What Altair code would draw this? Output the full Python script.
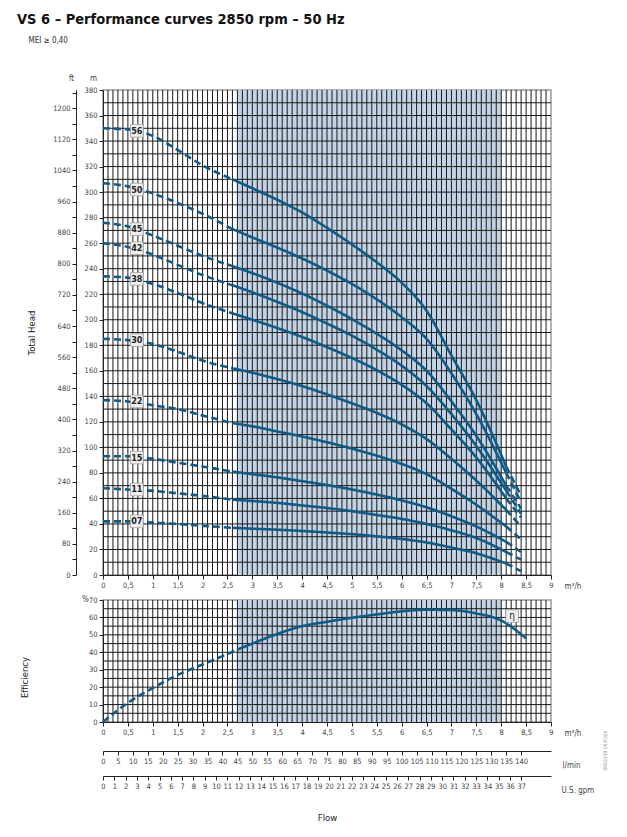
import altair as alt
import pandas as pd

# flow points (m3/h)
flow = [0, 0.5, 1, 1.5, 2, 2.6, 3, 3.5, 4, 4.5, 5, 5.5, 6, 6.5, 7, 7.5, 8.1, 8.4]

# head (m) per pump model
head_56 = [350, 349, 344, 333, 321, 310, 303, 294, 284, 272, 259, 245, 229, 207, 172, 137, 85, 62]
head_50 = [307, 304.5, 299, 291.5, 283, 271, 264.5, 256.5, 248, 238.5, 228, 216, 202, 185, 158, 126, 80, 57]
head_45 = [276, 273, 266, 258, 250, 242, 236.5, 229, 220.5, 211, 200.5, 189, 176, 160, 136, 109, 70, 52]
head_42 = [260, 257, 251, 243, 235, 227, 221.5, 214, 206, 197, 187.5, 176.5, 164, 148, 126, 101, 66, 48]
head_38 = [234, 233, 228, 221, 213, 205, 200, 193.5, 186.5, 178.5, 170, 160.5, 149, 134.5, 114, 92, 60, 45]
head_30 = [185, 184, 181, 175, 168, 162, 158.5, 153.5, 148, 141.5, 134.5, 127, 118, 106.5, 91, 74, 51, 38]
head_22 = [137, 136, 133, 130, 125, 119, 116.5, 112.5, 108.5, 104, 99, 93.5, 87, 79, 67.5, 55, 38, 28]
head_15 = [93, 93, 91, 88, 85, 81, 79, 76.5, 73.5, 70.5, 67, 63, 58.5, 53, 46, 38, 26, 18]
head_11 = [68, 67, 66, 64, 62, 59, 58, 56.5, 54.5, 52.5, 50, 47, 44, 40, 35, 29, 18, 12]
head_07 = [42, 42, 41, 40, 38.5, 37, 36.3, 35.5, 34.5, 33.3, 32, 30.3, 28.2, 25.5, 21.5, 17, 9, 3]

curve_names = ['56', '50', '45', '42', '38', '30', '22', '15', '11', '07']
curve_heads = [head_56, head_50, head_45, head_42, head_38, head_30, head_22, head_15, head_11, head_07]
label_flow = 0.68
label_head = [348, 302, 271, 256, 232, 184, 136, 92, 67, 42]

# efficiency curve
eff_flow = [0, 0.5, 1, 1.5, 2, 2.5, 2.7, 3, 3.5, 4, 4.5, 5, 5.5, 6, 6.5, 7, 7.5, 8, 8.5]
eff_pct = [0, 11, 19.5, 27, 33, 39, 41.5, 45, 50.5, 55, 57.5, 59.8, 61.7, 63.5, 64.4, 64.2, 62.3, 58.2, 48]

band_start, band_end = 2.7, 8.0

# tick labels
flow_ticks = [i / 2 for i in range(19)]
m_ticks = list(range(0, 381, 20))
ft_ticks = list(range(0, 1241, 40))
eff_ticks = list(range(0, 71, 10))
lmin_ticks = list(range(0, 141, 5))
gpm_ticks = list(range(0, 38))

# grid lines
vgrid = [round(i * 0.1, 1) for i in range(1, 90)]
hgrid_m = list(range(10, 380, 10))
hgrid_eff = list(range(5, 70, 5))

W, H1, H2 = 448, 485, 122
BLUE = '#0f5a87'
BAND = '#c1d3e5'
GRID = '#1b1b1b'
FONT = 'DejaVu Sans Condensed, Liberation Sans Narrow, Liberation Sans, sans-serif'

x_flow = alt.Scale(domain=[0, 9], nice=False)
y_head = alt.Scale(domain=[0, 380], nice=False)
y_ft = alt.Scale(domain=[0, 380 * 3.28084], nice=False)
y_eff = alt.Scale(domain=[0, 70], nice=False)
x_lmin = alt.Scale(domain=[0, 150], nice=False)
x_gpm = alt.Scale(domain=[0, 9 * 1000 / 60 / 3.78541], nice=False)

ax = dict(labelFont=FONT, labelFontSize=7.5, labelColor='#444', tickColor='#222',
          domainColor='#222', tickSize=4, labelPadding=2, grid=False,
          labelOverlap=False, titleFont=FONT, titleFontWeight='normal',
          titleColor='#444', titleFontSize=8)
side_title = dict(labels=False, ticks=False, domain=False, grid=False,
                  titleFont=FONT, titleFontWeight='normal', titleColor='#222',
                  titleFontSize=9.5)


def flow_axis():
    return alt.Axis(orient='bottom', values=flow_ticks, format='.1~f', labelFlush=False,
                    labelExpr="replace(datum.label, '.', ',')", title='m³/h',
                    titleX=W + 13, titleY=11, titleAlign='left',
                    titleBaseline='middle', **ax)


# --- rows for the head curves: dashed start, solid middle, dashed end
rows = []
for name, heads in zip(curve_names, curve_heads):
    for i, (f, h) in enumerate(zip(flow, heads)):
        if i <= 5:
            rows.append({'curve': name, 'part': name + 'a', 'style': 'dash', 'flow': f, 'head': h})
        if 5 <= i <= 16:
            rows.append({'curve': name, 'part': name + 'b', 'style': 'solid', 'flow': f, 'head': h})
        if i >= 16:
            rows.append({'curve': name, 'part': name + 'c', 'style': 'dash', 'flow': f, 'head': h})
curves_df = pd.DataFrame(rows)
labels_df = pd.DataFrame({'curve': curve_names, 'flow': label_flow, 'head': label_head})

eff_rows = []
for i, (f, e) in enumerate(zip(eff_flow, eff_pct)):
    if i <= 6:
        eff_rows.append({'part': 'a', 'style': 'dash', 'flow': f, 'eff': e})
    if i >= 6:
        eff_rows.append({'part': 'b', 'style': 'solid', 'flow': f, 'eff': e})
eff_df = pd.DataFrame(eff_rows)

dash_scale = alt.Scale(domain=['dash', 'solid'], range=[[7, 4], [1, 0]])
band_df = pd.DataFrame({'start': [band_start], 'end': [band_end]})

# ---------------- upper chart: total head
band_u = alt.Chart(band_df).mark_rect(color=BAND).encode(
    x=alt.X('start:Q', scale=x_flow, axis=None), x2='end:Q',
    y=alt.Y(datum=0, scale=y_head, axis=None), y2=alt.datum(380))
vgrid_u = alt.Chart(pd.DataFrame({'g': vgrid})).mark_rule(color=GRID, strokeWidth=1).encode(
    x=alt.X('g:Q', scale=x_flow, axis=None),
    y=alt.Y(datum=0, scale=y_head, axis=None), y2=alt.datum(380))
hgrid_u = alt.Chart(pd.DataFrame({'g': hgrid_m})).mark_rule(color=GRID, strokeWidth=1).encode(
    x=alt.X(datum=0, scale=x_flow, axis=None), x2=alt.datum(9),
    y=alt.Y('g:Q', scale=y_head,
            axis=alt.Axis(orient='left', title='Total Head', titleX=-72, titleY=H1 / 2,
                          titleAngle=270, titleBaseline='middle', titleAlign='center',
                          **side_title)))
lines_u = alt.Chart(curves_df).mark_line(color=BLUE, strokeWidth=2.6, interpolate='monotone').encode(
    x=alt.X('flow:Q', scale=x_flow, axis=flow_axis()),
    y=alt.Y('head:Q', scale=y_head,
            axis=alt.Axis(orient='left', values=m_ticks, format='d', title='m', titleX=-10,
                          titleY=-8, titleAngle=0, titleAlign='center', **ax)),
    detail='part:N',
    strokeDash=alt.StrokeDash('style:N', scale=dash_scale, legend=None))
box_u = alt.Chart(labels_df).mark_square(size=160, fill='#efefef', stroke='#a0a0a0',
                                          strokeWidth=0.8, opacity=1).encode(
    x=alt.X('flow:Q', scale=x_flow, axis=None),
    y=alt.Y('head:Q', scale=y_head, axis=None))
text_u = alt.Chart(labels_df).mark_text(font=FONT, fontSize=9, fontWeight='bold', color='#222').encode(
    x=alt.X('flow:Q', scale=x_flow, axis=None),
    y=alt.Y('head:Q', scale=y_head, axis=None),
    text='curve:N')
ft_u = alt.Chart(pd.DataFrame({'ft': ft_ticks})).mark_point(opacity=0).encode(
    x=alt.X(datum=0, scale=x_flow, axis=None),
    y=alt.Y('ft:Q', scale=y_ft,
            axis=alt.Axis(orient='left', offset=27, values=ft_ticks, format='d',
                          labelExpr="datum.value % 80 === 0 ? datum.label : ''",
                          title='ft', titleX=-5, titleY=-8, titleAngle=0,
                          titleAlign='center', **ax)))

upper = alt.layer(band_u, vgrid_u, hgrid_u, lines_u, box_u, text_u, ft_u).resolve_scale(
    x='independent', y='independent').properties(width=W, height=H1)

# ---------------- lower chart: efficiency
band_l = alt.Chart(band_df).mark_rect(color=BAND).encode(
    x=alt.X('start:Q', scale=x_flow,
            axis=alt.Axis(orient='bottom', title='Flow', titleX=W / 2, titleY=90,
                          titleAlign='center', **side_title)),
    x2='end:Q',
    y=alt.Y(datum=0, scale=y_eff, axis=None), y2=alt.datum(70))
vgrid_l = alt.Chart(pd.DataFrame({'g': vgrid})).mark_rule(color=GRID, strokeWidth=1).encode(
    x=alt.X('g:Q', scale=x_flow, axis=None),
    y=alt.Y(datum=0, scale=y_eff, axis=None), y2=alt.datum(70))
hgrid_l = alt.Chart(pd.DataFrame({'g': hgrid_eff})).mark_rule(color=GRID, strokeWidth=1).encode(
    x=alt.X(datum=0, scale=x_flow, axis=None), x2=alt.datum(9),
    y=alt.Y('g:Q', scale=y_eff,
            axis=alt.Axis(orient='left', title='Efficiency', titleX=-79, titleY=77,
                          titleAngle=270, titleBaseline='middle', titleAlign='center',
                          **side_title)))
eff_l = alt.Chart(eff_df).mark_line(color=BLUE, strokeWidth=2.6, interpolate='monotone').encode(
    x=alt.X('flow:Q', scale=x_flow, axis=flow_axis()),
    y=alt.Y('eff:Q', scale=y_eff,
            axis=alt.Axis(orient='left', values=eff_ticks, format='d', title='%', titleX=-18,
                          titleY=-1, titleAngle=0, titleAlign='center',
                          titleBaseline='middle', **ax)),
    detail='part:N',
    strokeDash=alt.StrokeDash('style:N', scale=dash_scale, legend=None))
eta_df = pd.DataFrame({'flow': [8.22], 'eff': [60.8], 'sym': ['η']})
box_l = alt.Chart(eta_df).mark_square(size=160, fill='#efefef', stroke='#a0a0a0',
                                      strokeWidth=0.8, opacity=1).encode(
    x=alt.X('flow:Q', scale=x_flow, axis=None),
    y=alt.Y('eff:Q', scale=y_eff,
            axis=alt.Axis(orient='right', title='0003339 05/0326', titleX=53, titleY=150,
                          titleAngle=270, titleAlign='center', titleBaseline='middle',
                          labels=False, ticks=False, domain=False, grid=False,
                          titleFont=FONT, titleFontSize=5, titleColor='#999',
                          titleFontWeight='normal')))
text_l = alt.Chart(eta_df).mark_text(font=FONT, fontSize=10, color='#222').encode(
    x=alt.X('flow:Q', scale=x_flow, axis=None),
    y=alt.Y('eff:Q', scale=y_eff, axis=None),
    text='sym:N')
lmin_l = alt.Chart(pd.DataFrame({'v': lmin_ticks})).mark_point(opacity=0).encode(
    x=alt.X('v:Q', scale=x_lmin,
            axis=alt.Axis(orient='bottom', offset=29, values=lmin_ticks, format='d',
                          labelFlush=False, title='l/min', titleX=W + 11, titleY=14,
                          titleAlign='left', titleBaseline='middle', **ax)),
    y=alt.Y(datum=0, scale=y_eff, axis=None))
gpm_l = alt.Chart(pd.DataFrame({'v': gpm_ticks})).mark_point(opacity=0).encode(
    x=alt.X('v:Q', scale=x_gpm,
            axis=alt.Axis(orient='bottom', offset=54, values=gpm_ticks, format='d',
                          labelFlush=False, title='U.S. gpm', titleX=W + 10, titleY=14,
                          titleAlign='left', titleBaseline='middle', **ax)),
    y=alt.Y(datum=0, scale=y_eff, axis=None))

lower = alt.layer(band_l, vgrid_l, hgrid_l, eff_l, box_l, text_l, lmin_l, gpm_l).resolve_scale(
    x='independent', y='independent').properties(width=W, height=H2)

chart = alt.vconcat(upper, lower, spacing=25, bounds='flush').properties(
    title=alt.TitleParams(
        text='VS 6 – Performance curves 2850 rpm – 50 Hz',
        subtitle='\u200b\u00a0\u00a0\u00a0\u00a0\u00a0MEI ≥ 0,40',
        anchor='start', frame='group', dx=-86, offset=27, font=FONT, fontSize=14.5,
        fontWeight='bold', color='#111', subtitleFont=FONT, subtitleFontSize=8,
        subtitleColor='#333', subtitlePadding=10),
    padding={'left': 9, 'top': 3, 'right': 5, 'bottom': 5},
).configure_view(stroke='#9a9a9a', strokeWidth=1.5)

chart.save("out.html", embed_options={"renderer": "svg", "actions": False})
